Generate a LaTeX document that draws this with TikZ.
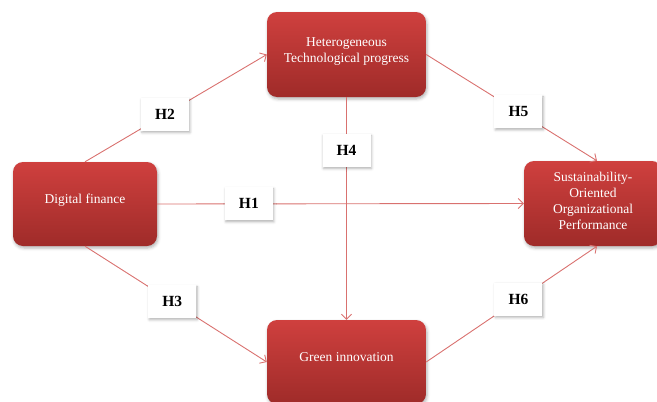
\documentclass[tikz,border=0pt]{standalone}
\usepackage{fontspec}
\setmainfont{Liberation Serif}
\usepackage{tikz}
\usetikzlibrary{arrows.meta,shadows.blur}
\definecolor{boxtop}{HTML}{CF403E}
\definecolor{boxbot}{HTML}{9F2B29}
\definecolor{linkred}{HTML}{D9716F}
\tikzset{
  var/.style={rounded corners=10pt, top color=boxtop, bottom color=boxbot,
    draw=none, text=white, font=\fontsize{13.5}{16}\selectfont, align=center,
    minimum width=159pt, minimum height=84pt, inner sep=2pt,
    blur shadow={shadow xshift=1pt, shadow yshift=-2pt, shadow blur radius=3pt,
      shadow opacity=30}},
  lift/.style={text depth=#1},
  hyp/.style={fill=white, draw=none, font=\fontsize{15.5}{18}\selectfont\bfseries,
    minimum width=48pt, minimum height=33pt, inner sep=1pt,
    blur shadow={shadow xshift=1pt, shadow yshift=-1.5pt, shadow blur radius=2.5pt,
      shadow opacity=30}},
  link/.style={draw=linkred, line width=0.9pt,
    -{Straight Barb[length=5pt,width=10pt]}}
}
\begin{document}
\begin{tikzpicture}[x=1pt, y=-1pt]
  \useasboundingbox (0,0) rectangle (657,402);
  % variables
  \node[var, lift=10pt, minimum width=144pt] (df) at (85,204) {Digital finance};
  \node[var, lift=9pt, minimum height=85pt] (het) at (346.5,54.5) {Heterogeneous\\Technological progress};
  \node[var, lift=5pt, minimum width=138pt, minimum height=85pt] (sus) at (593,203.5)
    {Sustainability-\\Oriented\\Organizational\\Performance};
  \node[var, lift=10pt] (gi) at (346.5,362) {Green innovation};
  % hypotheses
  \draw[link] (df.north) -- node[hyp, pos=0.44] (h2) {H2} (het.west);
  \draw[link] (df.east) -- node[hyp, pos=0.25] (h1) {H1} (sus.west);
  \draw[link] (df.south) -- node[hyp, pos=0.48] (h3) {H3} (gi.west);
  \draw[link] (het.south) -- node[hyp, pos=0.24] (h4) {H4} (gi.north);
  \draw[link] (het.east) -- node[hyp, pos=0.54] (h5) {H5} ([xshift=4pt]sus.north);
  \draw[link] (gi.east) -- node[hyp, pos=0.54] (h6) {H6} ([xshift=4pt]sus.south);
\end{tikzpicture}
\end{document}
